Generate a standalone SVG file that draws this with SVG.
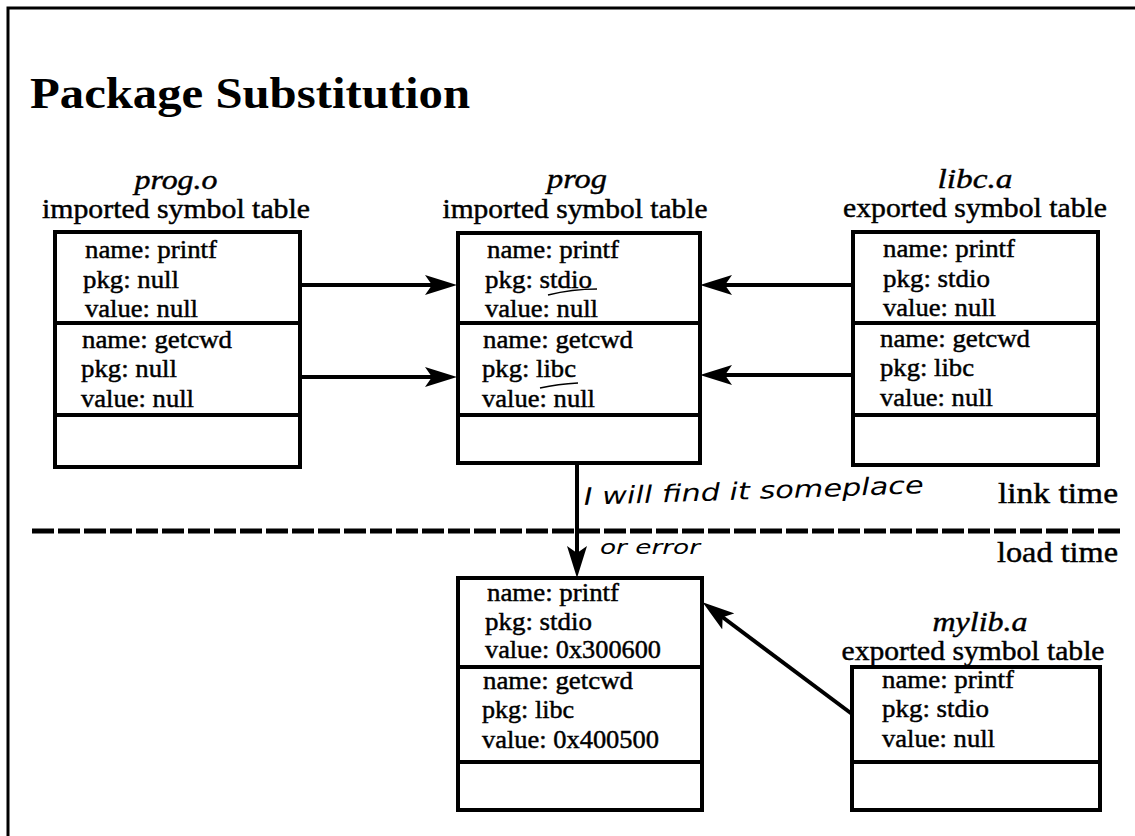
<svg xmlns="http://www.w3.org/2000/svg" width="1135" height="836" viewBox="0 0 1135 836">
<defs>
<style>
.box{fill:#fff;stroke:#000;stroke-width:4}
.div{stroke:#000;stroke-width:4}
.t{font-family:"Liberation Serif","Times New Roman",serif;font-size:25px;fill:#000;stroke:#000;stroke-width:0.45}
.h{font-family:"Liberation Serif","Times New Roman",serif;font-size:27px;fill:#000;stroke:#000;stroke-width:0.45;text-anchor:middle}
.hi{font-family:"Liberation Serif","Times New Roman",serif;font-size:27px;font-style:italic;fill:#000;stroke:#000;stroke-width:0.4;text-anchor:middle}
.lt{font-family:"Liberation Serif","Times New Roman",serif;font-size:30px;fill:#000;stroke:#000;stroke-width:0.45}
.hw{font-family:"DejaVu Sans","Liberation Sans",sans-serif;font-style:italic;font-weight:normal;fill:#000}
.conn{stroke:#000;stroke-width:4;fill:none}
.ul{stroke:#000;stroke-width:1.6;fill:none}
</style>
<marker id="ah" markerUnits="userSpaceOnUse" viewBox="0 0 32 20" refX="24" refY="10" markerWidth="32" markerHeight="20" orient="auto">
<path d="M0,0 L32,10 L0,20 L7,10 Z" fill="#000"/>
</marker>
</defs>
<rect width="1135" height="836" fill="#fff"/>
<path d="M8,836 V8 H1135" fill="none" stroke="#000" stroke-width="3"/>
<text x="30" y="108" font-family="Liberation Serif,'Times New Roman',serif" font-size="45" font-weight="bold" textLength="440" lengthAdjust="spacingAndGlyphs">Package Substitution</text>

<g id="progo">
<text class="hi" x="176" y="189" textLength="83" lengthAdjust="spacingAndGlyphs">prog.o</text>
<text class="h" x="176" y="218" textLength="268" lengthAdjust="spacingAndGlyphs">imported symbol table</text>
<rect class="box" x="55" y="232" width="245" height="235"/>
<line class="div" x1="55" y1="323" x2="300" y2="323"/>
<line class="div" x1="55" y1="415" x2="300" y2="415"/>
<text class="t" x="85" y="258" textLength="132" lengthAdjust="spacingAndGlyphs">name: printf</text>
<text class="t" x="83" y="288" textLength="96" lengthAdjust="spacingAndGlyphs">pkg: null</text>
<text class="t" x="85" y="317" textLength="113" lengthAdjust="spacingAndGlyphs">value: null</text>
<text class="t" x="82" y="348" textLength="150" lengthAdjust="spacingAndGlyphs">name: getcwd</text>
<text class="t" x="81" y="377" textLength="96" lengthAdjust="spacingAndGlyphs">pkg: null</text>
<text class="t" x="81" y="407" textLength="113" lengthAdjust="spacingAndGlyphs">value: null</text>
</g>

<g id="prog">
<text class="hi" x="577" y="188" textLength="60" lengthAdjust="spacingAndGlyphs">prog</text>
<text class="h" x="575" y="218" textLength="265" lengthAdjust="spacingAndGlyphs">imported symbol table</text>
<rect class="box" x="458" y="233" width="242" height="230"/>
<line class="div" x1="458" y1="323" x2="700" y2="323"/>
<line class="div" x1="458" y1="415" x2="700" y2="415"/>
<text class="t" x="487" y="258" textLength="132" lengthAdjust="spacingAndGlyphs">name: printf</text>
<text class="t" x="485" y="288" textLength="107" lengthAdjust="spacingAndGlyphs">pkg: stdio</text>
<text class="t" x="485" y="317" textLength="113" lengthAdjust="spacingAndGlyphs">value: null</text>
<text class="t" x="483" y="348" textLength="150" lengthAdjust="spacingAndGlyphs">name: getcwd</text>
<text class="t" x="482" y="377" textLength="94" lengthAdjust="spacingAndGlyphs">pkg: libc</text>
<text class="t" x="482" y="407" textLength="113" lengthAdjust="spacingAndGlyphs">value: null</text>
<path class="ul" d="M548,295 Q572,289 597,289"/>
<path class="ul" d="M540,388 Q558,384 578,383"/>
</g>

<g id="libca">
<text class="hi" x="975" y="188" textLength="75" lengthAdjust="spacingAndGlyphs">libc.a</text>
<text class="h" x="975" y="217" textLength="264" lengthAdjust="spacingAndGlyphs">exported symbol table</text>
<rect class="box" x="853" y="232" width="245" height="233"/>
<line class="div" x1="853" y1="323" x2="1098" y2="323"/>
<line class="div" x1="853" y1="415" x2="1098" y2="415"/>
<text class="t" x="883" y="257" textLength="132" lengthAdjust="spacingAndGlyphs">name: printf</text>
<text class="t" x="883" y="287" textLength="107" lengthAdjust="spacingAndGlyphs">pkg: stdio</text>
<text class="t" x="883" y="316" textLength="113" lengthAdjust="spacingAndGlyphs">value: null</text>
<text class="t" x="880" y="347" textLength="150" lengthAdjust="spacingAndGlyphs">name: getcwd</text>
<text class="t" x="880" y="376" textLength="94" lengthAdjust="spacingAndGlyphs">pkg: libc</text>
<text class="t" x="880" y="406" textLength="113" lengthAdjust="spacingAndGlyphs">value: null</text>
</g>

<g id="loaded">
<rect class="box" x="458" y="578" width="244" height="232"/>
<line class="div" x1="458" y1="667" x2="702" y2="667"/>
<line class="div" x1="458" y1="762" x2="702" y2="762"/>
<text class="t" x="487" y="601" textLength="132" lengthAdjust="spacingAndGlyphs">name: printf</text>
<text class="t" x="485" y="630" textLength="107" lengthAdjust="spacingAndGlyphs">pkg: stdio</text>
<text class="t" x="485" y="658" textLength="176" lengthAdjust="spacingAndGlyphs">value: 0x300600</text>
<text class="t" x="483" y="689" textLength="150" lengthAdjust="spacingAndGlyphs">name: getcwd</text>
<text class="t" x="482" y="718" textLength="92" lengthAdjust="spacingAndGlyphs">pkg: libc</text>
<text class="t" x="482" y="748" textLength="177" lengthAdjust="spacingAndGlyphs">value: 0x400500</text>
</g>

<g id="mylib">
<text class="hi" x="980" y="631" textLength="95" lengthAdjust="spacingAndGlyphs">mylib.a</text>
<text class="h" x="973" y="660" textLength="263" lengthAdjust="spacingAndGlyphs">exported symbol table</text>
<rect class="box" x="852" y="667" width="248" height="143"/>
<line class="div" x1="852" y1="762" x2="1100" y2="762"/>
<text class="t" x="882" y="688" textLength="132" lengthAdjust="spacingAndGlyphs">name: printf</text>
<text class="t" x="882" y="717" textLength="107" lengthAdjust="spacingAndGlyphs">pkg: stdio</text>
<text class="t" x="882" y="747" textLength="113" lengthAdjust="spacingAndGlyphs">value: null</text>
</g>

<g id="connectors">
<line class="conn" x1="300" y1="285" x2="449" y2="285" marker-end="url(#ah)"/>
<line class="conn" x1="300" y1="377" x2="449" y2="377" marker-end="url(#ah)"/>
<line class="conn" x1="853" y1="285" x2="708" y2="285" marker-end="url(#ah)"/>
<line class="conn" x1="853" y1="375" x2="708" y2="375" marker-end="url(#ah)"/>
<line class="conn" x1="577" y1="463" x2="577" y2="570" marker-end="url(#ah)"/>
<line class="conn" x1="852" y1="714" x2="709" y2="607" marker-end="url(#ah)"/>
</g>

<g id="timeline">
<line x1="32" y1="531" x2="1120" y2="531" stroke="#000" stroke-width="5" stroke-dasharray="22 4"/>
<text class="lt" x="998" y="503" textLength="120" lengthAdjust="spacingAndGlyphs">link time</text>
<text class="lt" x="997" y="562" textLength="121" lengthAdjust="spacingAndGlyphs">load time</text>
</g>

<g id="notes">
<text class="hw" x="584" y="505" font-size="24" textLength="340" lengthAdjust="spacingAndGlyphs" transform="rotate(-2 584 505)">I will find it someplace</text>
<text class="hw" x="600" y="554" font-size="20" textLength="100" lengthAdjust="spacingAndGlyphs">or error</text>
</g>
</svg>
